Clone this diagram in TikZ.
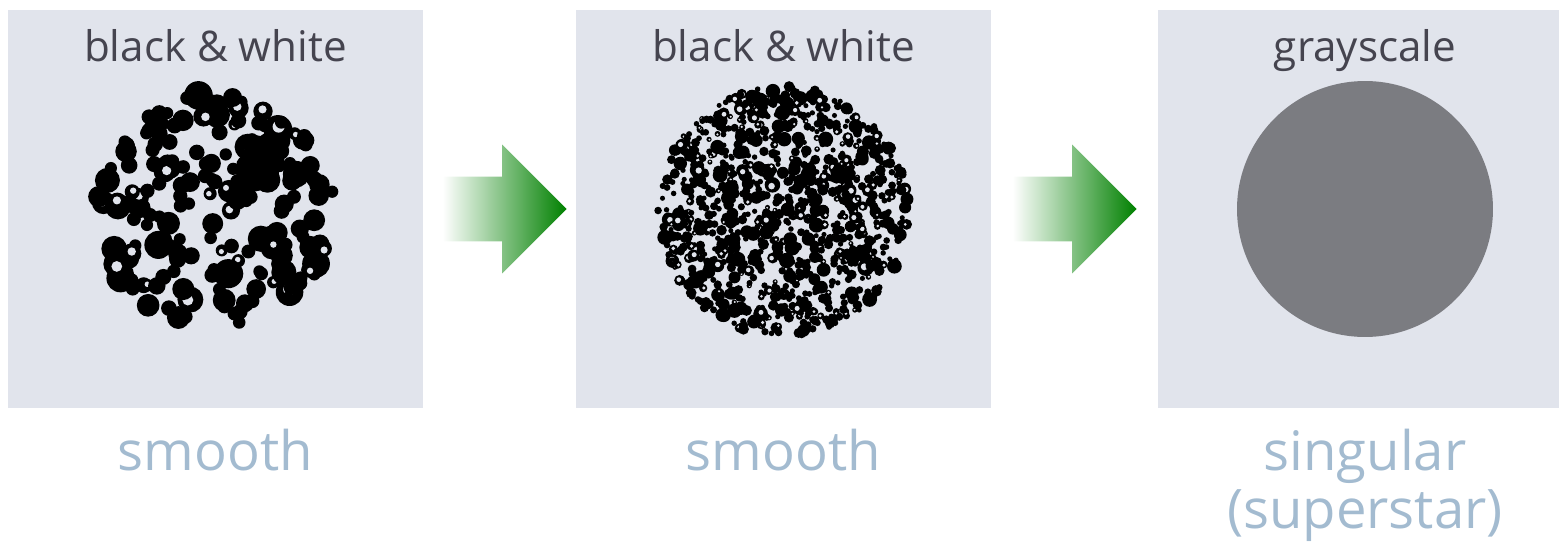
\documentclass[tikz,border=0pt]{standalone}
\usepackage{fontspec}
\setmainfont{Open Sans}
\usetikzlibrary{shapes.arrows}
\definecolor{panelbg}{RGB}{225,228,236}
\definecolor{titlegray}{RGB}{69,68,79}
\definecolor{labelblue}{RGB}{163,187,208}
\definecolor{diskgray}{RGB}{123,124,129}
\definecolor{arrowgreen}{RGB}{0,128,0}

% random cloud of black dots: cx, cy, spread, count, rmin, rmax, ring share
\newcommand{\blobcloud}[7]{%
  \foreach \k in {1,...,#4}{%
    \pgfmathsetmacro{\ang}{360*rnd}%
    \pgfmathsetmacro{\dst}{#3*sqrt(rnd)}%
    \pgfmathsetmacro{\rad}{#5+(#6-#5)*rnd*rnd}%
    \pgfmathsetmacro{\px}{#1+\dst*cos(\ang)}%
    \pgfmathsetmacro{\py}{#2+\dst*sin(\ang)}%
    \fill[black] (\px,\py) circle (\rad);
    \pgfmathsetmacro{\hole}{rnd<#7 ? 1 : 0}%
    \ifdim\hole pt>0.5pt
      \pgfmathsetmacro{\ha}{360*rnd}%
      \fill[panelbg] ({\px+0.2*\rad*cos(\ha)},{\py+0.2*\rad*sin(\ha)}) circle ({0.42*\rad});
    \fi
  }%
}

\begin{document}
\begin{tikzpicture}[x=0.02cm, y=-0.02cm,
    panel/.style={fill=panelbg, inner sep=0pt, minimum height=7.96cm},
    toplabel/.style={text=titlegray, font=\fontsize{24}{28}\selectfont, anchor=base, inner sep=0pt},
    botlabel/.style={text=labelblue, font=\fontsize{31}{33}\selectfont, anchor=base, inner sep=0pt},
    bigarrow/.style={single arrow, left color=white, right color=arrowgreen, draw=none,
        minimum height=2.48cm, inner xsep=0pt, inner ysep=0.64cm,
        single arrow head extend=0.64cm, anchor=tip}]
    \useasboundingbox (0,0) rectangle (1559,544);

    % panels
    \node[panel, minimum width=8.3cm] (bwA) at (215.5,209) {};
    \node[panel, minimum width=8.3cm] (bwB) at (783.5,209) {};
    \node[panel, minimum width=8.02cm] (gray) at (1358.5,209) {};

    % headings
    \node[toplabel] (hA) at (215.5,62) {black \& white};
    \node[toplabel] (hB) at (783.5,62) {black \& white};
    \node[toplabel] (hC) at (1365,62) {grayscale};

    % dot clouds
    \pgfmathsetseed{2023}
    \blobcloud{216}{210}{118}{215}{6}{17}{0.12}
    \blobcloud{783}{211}{125}{1050}{2.5}{8.5}{0.18}
    \node[circle, fill=diskgray, inner sep=0pt, minimum size=5.12cm] (disk) at (1365,209) {};

    % arrows
    \node[bigarrow] (arrA) at (567,209) {};
    \node[bigarrow] (arrB) at (1137,209) {};

    % verdicts
    \node[botlabel] (vA) at (215.5,470) {smooth};
    \node[botlabel] (vB) at (783.5,470) {smooth};
    \node[botlabel] (vC) at (1365,470) {singular};
    \node[botlabel] (vD) at (1365,528) {(superstar)};
\end{tikzpicture}
\end{document}
